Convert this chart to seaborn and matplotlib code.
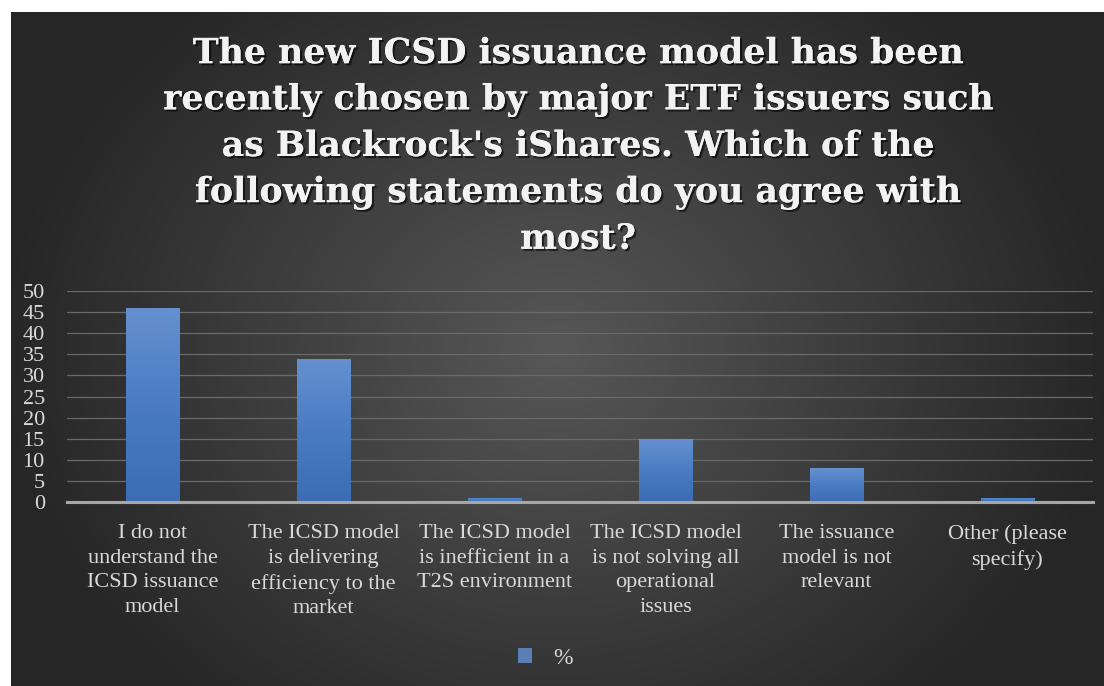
import numpy as np
import pandas as pd
import matplotlib
matplotlib.use('Agg')
import matplotlib.pyplot as plt
import matplotlib.patheffects as pe
from matplotlib.colors import LinearSegmentedColormap
import seaborn as sns

sns.set_style('white')
plt.rcParams['font.family'] = ['Liberation Serif', 'DejaVu Serif']

# data
categories = ['I do not\nunderstand the\nICSD issuance\nmodel',
              'The ICSD model\nis delivering\nefficiency to the\nmarket',
              'The ICSD model\nis inefficient in a\nT2S environment',
              'The ICSD model\nis not solving all\noperational\nissues',
              'The issuance\nmodel is not\nrelevant',
              'Other (please\nspecify)']
percent = [46, 34, 1, 15, 8, 1]
series_name = '%'
title = ("The new ICSD issuance model has been\n"
         "recently chosen by major ETF issuers such\n"
         "as Blackrock's iShares. Which of the\n"
         "following statements do you agree with\n"
         "most?")

W, H = 1104, 686
fig = plt.figure(figsize=(W / 100, H / 100), dpi=100)
fig.patch.set_facecolor('white')

# dark radial background
bg = fig.add_axes([11 / W, 0, 1 - 11 / W, 1 - 12 / H], zorder=-2)
yy, xx = np.mgrid[0:674, 0:1093]
r = np.sqrt(((xx - 545) / 560.0) ** 2 + ((yy - 340) / 470.0) ** 2)
r = np.clip(r, 0, 1)
bg_cmap = LinearSegmentedColormap.from_list('bg', ['#575757', '#3e3e3e', '#262626'])
bg.imshow(r, cmap=bg_cmap, aspect='auto', interpolation='bilinear')
bg.axis('off')

ax = fig.add_axes([67 / W, 1 - 502 / H, (1093 - 67) / W, (502 - 291) / H])
ax.set_facecolor('none')

df = pd.DataFrame({'category': categories, 'value': percent})
sns.barplot(data=df, x='category', y='value', color='#4a7cc4', width=0.31,
            ax=ax, label=series_name, zorder=3, linewidth=0)

# vertical gradient inside each bar
bar_cmap = LinearSegmentedColormap.from_list('bar', ['#3b6db4', '#4a7cc4', '#6590cf'])
grad = np.linspace(0, 1, 100).reshape(-1, 1)
for p in ax.patches:
    x0, w, h = p.get_x(), p.get_width(), p.get_height()
    im = ax.imshow(grad, cmap=bar_cmap, origin='lower', aspect='auto',
                   extent=(x0, x0 + w, 0, h), zorder=3.5)
    im.set_clip_path(p)

ax.set_xlim(-0.5, len(categories) - 0.5)
ax.set_ylim(0, 50)
ax.set_yticks(np.arange(0, 51, 5))
ax.yaxis.grid(True, color='#6a6a6a', linewidth=0.9, zorder=0)
ax.set_axisbelow(True)
for s in ['top', 'right', 'left']:
    ax.spines[s].set_visible(False)
ax.spines['bottom'].set_color('#a6a6a6')
ax.spines['bottom'].set_linewidth(2.2)
ax.spines['bottom'].set_zorder(5)

ax.set_xlabel('')
ax.set_ylabel('')
ax.tick_params(axis='y', length=0, pad=16, labelsize=16, labelcolor='#d9d9d9')
ax.tick_params(axis='x', length=0, pad=16, labelsize=16, labelcolor='#d9d9d9')
for lab in ax.get_xticklabels():
    lab.set_linespacing(1.4)
    lab.set_verticalalignment('top')

leg = ax.legend(loc='center', bbox_to_anchor=(545 / W, 1 - 658 / H),
                bbox_transform=fig.transFigure, frameon=False, fontsize=17,
                handlelength=0.6, handleheight=0.6, handletextpad=0.9)
for h in leg.legend_handles:
    h.set_edgecolor('none')
    h.set_linewidth(0)
for t in leg.get_texts():
    t.set_color('#d9d9d9')

fig.text(578 / W, 1 - 146 / H, title, ha='center', va='center',
         fontsize=25, fontweight='bold', family='DejaVu Serif', color='#f2f2f2',
         linespacing=1.45,
         path_effects=[pe.withSimplePatchShadow(offset=(1.5, -1.5), shadow_rgbFace='black', alpha=0.6),
                       pe.Normal()])

fig.savefig('out.png', dpi=100, facecolor=fig.get_facecolor())
